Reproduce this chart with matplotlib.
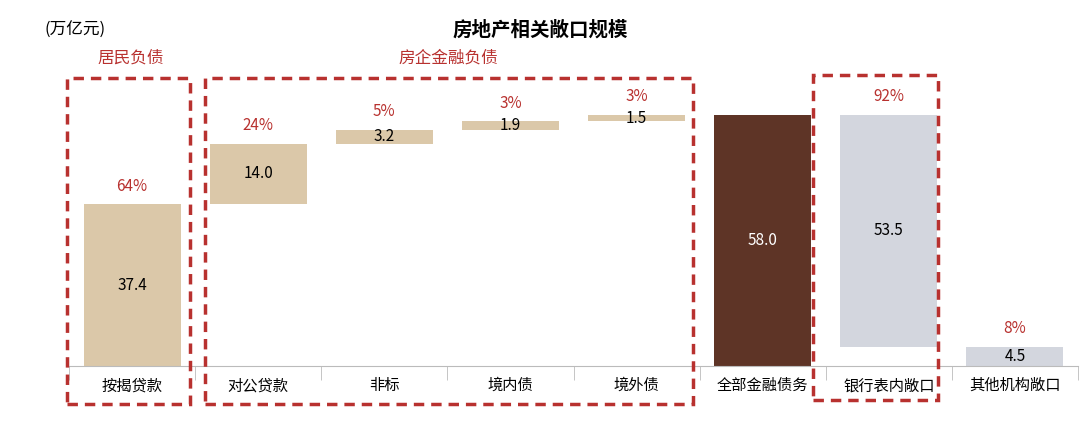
import matplotlib
matplotlib.use("Agg")
import matplotlib.pyplot as plt
from matplotlib.patches import Rectangle

plt.rcParams['font.family'] = ['Noto Sans CJK SC', 'DejaVu Sans']

categories = ["按揭贷款", "对公贷款", "非标", "境内债", "境外债", "全部金融债务", "银行表内敞口", "其他机构敞口"]
values = [37.4, 14.0, 3.2, 1.9, 1.5, 58.0, 53.5, 4.5]
bottoms = [0, 37.4, 51.4, 54.6, 56.5, 0, 4.5, 0]
pcts = ["64%", "24%", "5%", "3%", "3%", "", "92%", "8%"]
colors = ["#DBC8A9"] * 5 + ["#5E3426", "#D3D6DE", "#D3D6DE"]
red = "#B8312F"

W, H = 1080, 421
fig = plt.figure(figsize=(W / 100, H / 100), dpi=100)
ax = fig.add_axes([69 / W, 55 / H, 1009 / W, 303 / H])
x = range(len(categories))
ax.bar(x, values, bottom=bottoms, width=0.77, color=colors)
for i, (v, b, p) in enumerate(zip(values, bottoms, pcts)):
    ax.text(i, b + v / 2, f"{v:.1f}", ha="center", va="center", fontsize=11,
            color="white" if i == 5 else "black")
    if p:
        ax.text(i, b + v + 2.2, p, ha="center", va="bottom", fontsize=11, color=red)
ax.set_xlim(-0.5, 7.5)
ax.set_ylim(0, 70)
for s in ["top", "right", "left"]:
    ax.spines[s].set_visible(False)
ax.spines["bottom"].set_color("#BBBBBB")
ax.set_yticks([])
ax.set_xticks(list(x))
ax.set_xticklabels(categories, fontsize=11)
ax.tick_params(axis="x", length=0, pad=8)
ax.set_xticks([i + 0.5 for i in range(-1, 8)], minor=True)
ax.tick_params(axis="x", which="minor", length=10, color="#BBBBBB")

def box(x0, y0, x1, y1):
    fig.patches.append(Rectangle((x0 / W, 1 - y1 / H), (x1 - x0) / W, (y1 - y0) / H,
                                 transform=fig.transFigure, fill=False, edgecolor=red,
                                 linewidth=2.5, linestyle=(0, (3, 2))))
box(67, 78, 190, 404)
box(205, 78, 693, 404)
box(813, 75, 938, 400)

fig.text(131 / W, 1 - 58 / H, "居民负债", ha="center", va="center", fontsize=12, color=red)
fig.text(448 / W, 1 - 58 / H, "房企金融负债", ha="center", va="center", fontsize=12, color=red)
fig.text(540 / W, 1 - 30 / H, "房地产相关敞口规模", ha="center", va="center", fontsize=14, fontweight="bold")
fig.text(45 / W, 1 - 30 / H, "(万亿元)", ha="left", va="center", fontsize=12)

fig.savefig("out.png", dpi=100)
